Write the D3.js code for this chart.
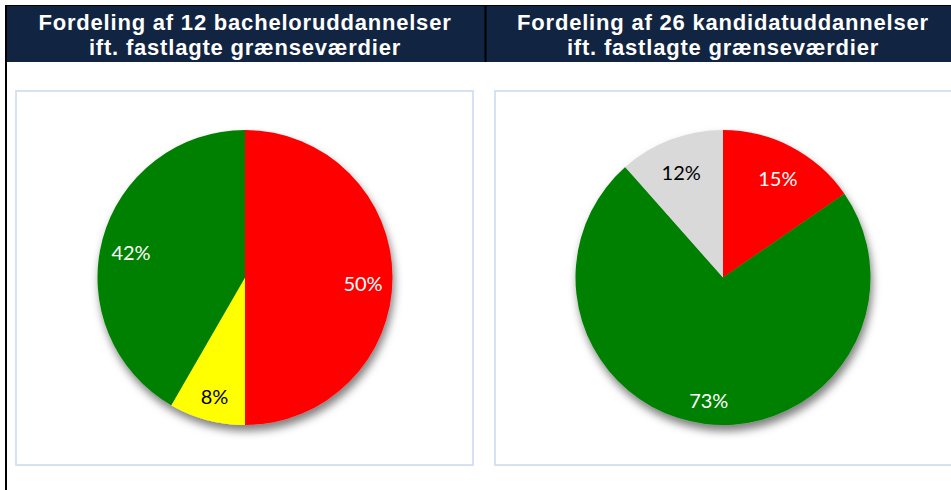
<!DOCTYPE html>
<html>
<head>
<meta charset="utf-8">
<script src="https://cdn.jsdelivr.net/npm/d3@7"></script>
<style>
  html, body { margin: 0; padding: 0; background: #fff; }
  svg { display: block; }
</style>
</head>
<body>
<div id="chart"></div>
<script>
// titles of the two panels
const titleLeft = ["Fordeling af 12 bacheloruddannelser", "ift. fastlagte grænseværdier"];
const titleRight = ["Fordeling af 26 kandidatuddannelser", "ift. fastlagte grænseværdier"];

// bachelor: counts out of 12
const bachelorCats = ["Rød", "Gul", "Grøn"];
const bachelorCounts = [6, 1, 5];

// kandidat: counts out of 26
const kandidatCats = ["Rød", "Grøn", "Grå"];
const kandidatCounts = [4, 19, 3];

const catColor = { "Rød": "#ff0000", "Gul": "#ffff00", "Grøn": "#008000", "Grå": "#d9d9d9" };
const catText = { "Rød": "#fff", "Gul": "#000", "Grøn": "#fff", "Grå": "#000" };

const w = 951, h = 490;

const svg = d3.select("#chart").append("svg")
  .attr("width", w)
  .attr("height", h);

// drop shadow like the office chart
const defs = svg.append("defs");
defs.append("filter").attr("id", "shadow")
  .attr("x", "-20%").attr("y", "-20%").attr("width", "140%").attr("height", "150%")
  .append("feDropShadow")
  .attr("dx", 2).attr("dy", 6)
  .attr("stdDeviation", 4)
  .attr("flood-color", "#000")
  .attr("flood-opacity", 0.5);

// header band
svg.append("rect")
  .attr("x", 6).attr("y", 5)
  .attr("width", w - 6).attr("height", 57)
  .attr("fill", "#112441");
svg.append("line")
  .attr("x1", 6).attr("x2", w).attr("y1", 5.5).attr("y2", 5.5)
  .attr("stroke", "#000").attr("stroke-width", 1);
svg.append("line")
  .attr("x1", 485.5).attr("x2", 485.5).attr("y1", 5).attr("y2", 62)
  .attr("stroke", "#000").attr("stroke-width", 2);
// left frame line
svg.append("line")
  .attr("x1", 6).attr("x2", 6).attr("y1", 5).attr("y2", h)
  .attr("stroke", "#000").attr("stroke-width", 2);

function drawTitle(lines, cx) {
  const t = svg.append("text")
    .attr("text-anchor", "middle")
    .attr("font-family", "Liberation Sans, Arial, sans-serif")
    .attr("font-weight", "bold")
    .attr("font-size", "22px")
    .attr("letter-spacing", "0.8px")
    .attr("fill", "#fff");
  lines.forEach((s, i) => {
    t.append("tspan").attr("x", cx).attr("y", 30 + i * 25).text(s);
  });
}
drawTitle(titleLeft, 245);
drawTitle(titleRight, 723);

// panel frames
svg.append("rect")
  .attr("x", 16).attr("y", 91)
  .attr("width", 457).attr("height", 374)
  .attr("fill", "#fff")
  .attr("stroke", "#d6e1f3").attr("stroke-width", 2);
svg.append("rect")
  .attr("x", 495).attr("y", 91)
  .attr("width", 470).attr("height", 374)
  .attr("fill", "#fff")
  .attr("stroke", "#d6e1f3").attr("stroke-width", 2);

const radius = 147.5;
const pie = d3.pie().sort(null).value(d => d.v);
const arc = d3.arc().innerRadius(0).outerRadius(radius);
const labelArc = d3.arc().innerRadius(radius * 0.8).outerRadius(radius * 0.8);

function drawPie(cats, counts, cx, cy) {
  const total = d3.sum(counts);
  const data = cats.map((c, i) => ({ c: c, v: counts[i] }));
  const g = svg.append("g").attr("transform", "translate(" + cx + "," + cy + ")");
  const arcs = pie(data);

  g.append("g").attr("filter", "url(#shadow)")
    .selectAll("path").data(arcs).enter()
    .append("path")
    .attr("d", arc)
    .attr("fill", d => catColor[d.data.c]);

  g.selectAll("text.lbl").data(arcs).enter()
    .append("text")
    .attr("class", "lbl")
    .attr("transform", d => {
      const p = labelArc.centroid(d);
      return "translate(" + p[0] + "," + (p[1] + 6) + ")";
    })
    .attr("text-anchor", "middle")
    .attr("dy", "0.35em")
    .attr("font-family", "Lato, 'Open Sans', sans-serif")
    .attr("font-size", "20px")
    .attr("fill", d => catText[d.data.c])
    .text(d => Math.round(d.data.v / total * 100) + "%");
}

drawPie(bachelorCats, bachelorCounts, 245, 277.5);
drawPie(kandidatCats, kandidatCounts, 723, 277.5);
</script>
</body>
</html>
